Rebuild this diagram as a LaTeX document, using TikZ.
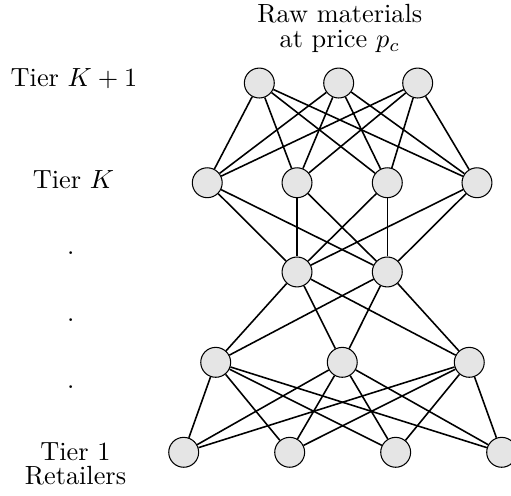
\documentclass[tikz,border=0pt]{standalone}
\definecolor{ink}{HTML}{000000}
\definecolor{firmfill}{HTML}{E5E5E5}

\begin{document}
\begin{tikzpicture}[
  firm/.style={circle, draw=ink, fill=firmfill, line width=0.4pt,
               minimum size=0.4cm, inner sep=0},
  link/.style={draw=ink, line width=0.6pt},
  tierlab/.style={anchor=base, color=ink, inner sep=0}
]

\useasboundingbox (0,0) rectangle (6.832cm,-6.618cm);

\node[tierlab, align=center, anchor=north] (raw) at (4.543cm,-0.056cm)
  {Raw materials\\[-2.8pt] at price $p_c$};

\node[tierlab] (labtop) at (0.989cm,-1.150cm) {Tier $K+1$};
\node[tierlab] (labk)   at (0.983cm,-2.517cm) {Tier $K$};
\node[tierlab] (dotA)   at (0.945cm,-3.406cm) {.};
\node[tierlab] (dotB)   at (0.945cm,-4.298cm) {.};
\node[tierlab] (dotC)   at (0.945cm,-5.190cm) {.};
\node[tierlab, align=center, anchor=north] (labret) at (1.009cm,-5.91cm)
  {Tier 1\\[-2.8pt] Retailers};

% firms in each tier, top to bottom
\foreach \i/\x in {1/3.467, 2/4.528, 3/5.584}
  \node[firm] (sup\i) at (\x cm,-1.110cm) {};
\foreach \i/\x in {1/2.771, 2/3.971, 3/5.178, 4/6.377}
  \node[firm] (tk\i) at (\x cm,-2.443cm) {};
\foreach \i/\x in {1/3.971, 2/5.178}
  \node[firm] (mid\i) at (\x cm,-3.636cm) {};
\foreach \i/\x in {1/2.884, 2/4.576, 3/6.274}
  \node[firm] (low\i) at (\x cm,-4.844cm) {};
\foreach \i/\x in {1/2.456, 2/3.873, 3/5.290, 4/6.707}
  \node[firm] (ret\i) at (\x cm,-6.047cm) {};

% every firm sells to every firm of the tier below
\foreach \a in {1,2,3}
  \foreach \b in {1,2,3,4}
    \draw[link] (sup\a) -- (tk\b);
\foreach \a in {1,2,3,4}
  \foreach \b in {1,2}
    \draw[link] (tk\a) -- (mid\b);
\foreach \a in {1,2}
  \foreach \b in {1,2,3}
    \draw[link] (mid\a) -- (low\b);
\foreach \a in {1,2,3}
  \foreach \b in {1,2,3,4}
    \draw[link] (low\a) -- (ret\b);

\end{tikzpicture}
\end{document}
